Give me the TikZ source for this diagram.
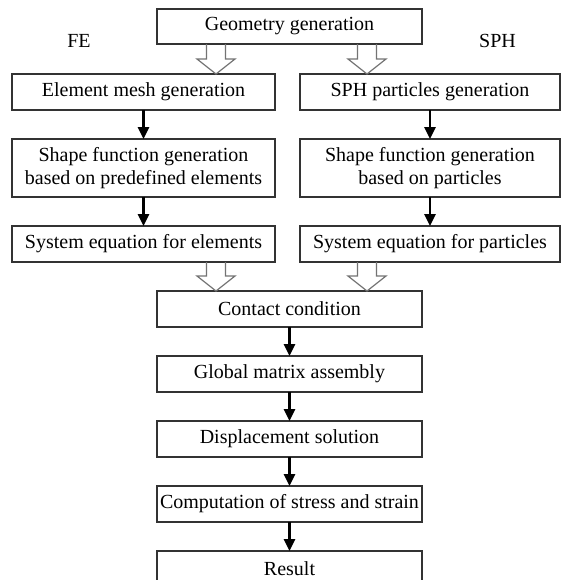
\documentclass[tikz,border=0pt]{standalone}
\usepackage{fontspec}
\setmainfont{Liberation Serif}
\usetikzlibrary{positioning,calc,arrows.meta}

% open block arrow between two points (start on a box border, tip on the next one)
\newcommand{\hollowarrow}[2]{%
	\draw[hollow] ($(#1)+(-4.75pt,0)$) -- ($(#2)+(-4.75pt,7.5pt)$) -- ($(#2)+(-9.5pt,7.5pt)$)
		-- (#2) -- ($(#2)+(9.5pt,7.5pt)$) -- ($(#2)+(4.75pt,7.5pt)$) -- ($(#1)+(4.75pt,0)$);}

\begin{document}
\begin{tikzpicture}[
		x=0.5pt, y=-0.5pt,
		box/.style={rectangle, draw=black!80, line width=0.6pt, minimum height=18pt, inner sep=1pt, outer sep=0pt, align=center, font=\fontsize{10}{11.5}\selectfont},
		leftbox/.style={box, minimum width=131.5pt},
		rightbox/.style={box, minimum width=130pt},
		midbox/.style={box, minimum width=132.5pt},
		tag/.style={font=\fontsize{10}{12}\selectfont, inner sep=0pt},
		flow/.style={-{Triangle[length=6pt,width=5.5pt]}, line width=1.3pt},
		hollow/.style={draw=black!55, line width=0.6pt, line join=miter},
		node distance=14.5pt,
		]
		\useasboundingbox (0,0) rectangle (563,580);

		%Top
		\node[midbox, minimum height=17.5pt]	(geometry)	at (289.5,26.5)	{Geometry generation};
		\node[tag]	(fe)	at (79,41)		{FE};
		\node[tag]	(sph)	at (497.5,41)	{SPH};

		%Two columns
		\node[leftbox]	(mesh)		[below=15pt of geometry, xshift=-73pt]	{Element mesh generation};
		\node[rightbox]	(particles)	[right=12.5pt of mesh]					{SPH particles generation};
		\node[leftbox, minimum height=29pt]		(shape_fe)	[below=of mesh]		{Shape function generation\\based on predefined elements};
		\node[rightbox, minimum height=29pt]	(shape_sph)	[below=of particles]	{Shape function generation\\based on particles};
		\node[leftbox]	(sys_fe)	[below=of shape_fe]		{System equation for elements};
		\node[rightbox]	(sys_sph)	[below=of shape_sph]	{System equation for particles};

		%Common part
		\coordinate (join) at (sys_fe.south -| geometry);
		\node[midbox]	(contact)		[below=of join]			{Contact condition};
		\node[midbox]	(assembly)		[below=of contact]		{Global matrix assembly};
		\node[midbox]	(displacement)	[below=of assembly]		{Displacement solution};
		\node[midbox]	(stress)		[below=of displacement]	{Computation of stress and strain};
		\node[midbox]	(result)		[below=of stress]		{Result};

		%Open arrows
		\coordinate (geo_l)		at ($(geometry.south)+(-73.5,0)$);
		\coordinate (geo_r)		at ($(geometry.south)+(77.5,0)$);
		\coordinate (mesh_in)	at (geo_l |- mesh.north);
		\coordinate (part_in)	at (geo_r |- particles.north);
		\coordinate (fe_out)	at (geo_l |- sys_fe.south);
		\coordinate (sph_out)	at (geo_r |- sys_sph.south);
		\coordinate (con_l)		at (geo_l |- contact.north);
		\coordinate (con_r)		at (geo_r |- contact.north);
		\hollowarrow{geo_l}{mesh_in}
		\hollowarrow{geo_r}{part_in}
		\hollowarrow{fe_out}{con_l}
		\hollowarrow{sph_out}{con_r}

		%Black arrows
		\draw[flow]	(mesh)		--	(shape_fe);
		\draw[flow]	(shape_fe)	--	(sys_fe);
		\draw[flow]	(particles)	--	(shape_sph);
		\draw[flow]	(shape_sph)	--	(sys_sph);
		\draw[flow]	(contact)		--	(assembly);
		\draw[flow]	(assembly)		--	(displacement);
		\draw[flow]	(displacement)	--	(stress);
		\draw[flow]	(stress)		--	(result);

	\end{tikzpicture}
\end{document}
